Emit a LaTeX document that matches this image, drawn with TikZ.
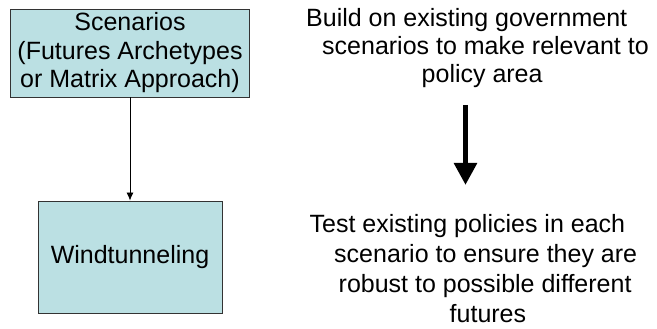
\documentclass[tikz,border=0pt]{standalone}
\usepackage{fontspec}
\setmainfont{Liberation Sans}
\usetikzlibrary{arrows.meta,positioning}
\definecolor{boxfill}{RGB}{187,224,227}
\definecolor{boxline}{RGB}{51,51,51}

\begin{document}
\begin{tikzpicture}[x=1pt,y=-1pt]
        \tikzset{Box/.style={rectangle, draw=boxline, fill=boxfill, line width=0.9pt, inner sep=0pt, align=center, font=\fontsize{25}{28.5}\selectfont}}
        \tikzset{Note/.style={inner sep=0pt, align=left, anchor=base west}}
        \useasboundingbox (0,0) rectangle (657,329);

        \node[Box, minimum width=239, minimum height=88](Scen) at (130,53) {Scenarios\\(Futures Archetypes\\or Matrix Approach)};
        \node[Box, minimum width=184, minimum height=112](Wind) at (130,257) {Windtunneling};

        % anchored at the baseline of the last line
        \node[Note, font=\fontsize{25}{27.75}\selectfont](Build) at (306,82.5)
            {Build on existing government\\\hspace*{16pt}scenarios to make relevant to\\\hspace*{115.5pt}policy area};
        \node[Note, font=\fontsize{25}{30}\selectfont](Test) at (309.5,322)
            {Test existing policies in each\\\hspace*{24.5pt}scenario to ensure they are\\\hspace*{29pt}robust to possible different\\\hspace*{140pt}futures};

        \coordinate (ArrTop) at (465.5,105);
        \coordinate (ArrTip) at (465.5,185);

        \draw[-{Latex[length=8pt,width=7pt]}, line width=0.8pt]
            (Scen.south) -- (Wind.north)
        ;
        \draw[-{Triangle[length=22pt,width=22pt]}, line width=5.5pt]
            (ArrTop) -- (ArrTip)
        ;
\end{tikzpicture}
\end{document}
